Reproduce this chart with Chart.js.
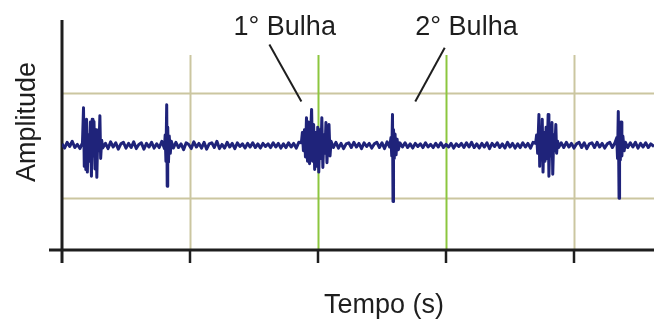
<!DOCTYPE html>
<html>
<head>
<meta charset="utf-8">
<script src="https://cdn.jsdelivr.net/npm/chart.js@4"></script>
<style>
  body { margin: 0; background: #ffffff; }
  #fono { display: block; }
</style>
</head>
<body>
<canvas id="fono" width="654" height="324"></canvas>
<script>
/* ------------------
  data (tempo in s, amplitude arbitrary)
-------------------*/
var tempo = [
  // baseline
  0.00, 0.02, 0.04, 0.06, 0.08, 0.10, 0.12, 0.14,
  // 1a bulha
  0.160, 0.168, 0.174, 0.180, 0.186, 0.192, 0.198, 0.206, 0.214, 0.222, 0.230, 0.236,
  0.242, 0.250, 0.258, 0.266, 0.272, 0.280, 0.288, 0.296, 0.302, 0.310, 0.318,
  // baseline
  0.34, 0.36, 0.38, 0.40, 0.42, 0.44, 0.46, 0.48, 0.50, 0.52, 0.54, 0.56,
  0.58, 0.60, 0.62, 0.64, 0.66, 0.68, 0.70, 0.72, 0.74, 0.76, 0.78, 0.80,
  // 2a bulha
  0.806, 0.812, 0.818, 0.822, 0.826, 0.832, 0.838, 0.846, 0.854,
  // baseline
  0.87, 0.89, 0.91, 0.93, 0.95, 0.97, 0.99, 1.01, 1.03, 1.05,
  1.07, 1.09, 1.11, 1.13, 1.15, 1.17, 1.19, 1.21, 1.23, 1.25,
  1.27, 1.29, 1.31, 1.33, 1.35, 1.37, 1.39, 1.41, 1.43, 1.45,
  1.47, 1.49, 1.51, 1.53, 1.55, 1.57, 1.59, 1.61, 1.63, 1.65,
  1.67, 1.69, 1.71, 1.73, 1.75, 1.77, 1.79, 1.81, 1.83, 1.85,
  // 1a bulha
  1.870, 1.878, 1.886, 1.894, 1.902, 1.910, 1.918, 1.926, 1.934, 1.942,
  1.950, 1.958, 1.966, 1.974, 1.982, 1.990, 1.998, 2.006, 2.014, 2.022,
  2.030, 2.038, 2.046, 2.054, 2.062, 2.070, 2.078, 2.086, 2.094, 2.102,
  // baseline
  2.12, 2.14, 2.16, 2.18, 2.20, 2.22, 2.24, 2.26, 2.28, 2.30, 2.32, 2.34,
  2.36, 2.38, 2.40, 2.42, 2.44, 2.46, 2.48, 2.50, 2.52, 2.54, 2.56,
  // 2a bulha
  2.570, 2.576, 2.582, 2.586, 2.590, 2.596, 2.602, 2.610, 2.618, 2.628, 2.640,
  // baseline
  2.66, 2.68, 2.70, 2.72, 2.74, 2.76, 2.78, 2.80, 2.82, 2.84,
  2.86, 2.88, 2.90, 2.92, 2.94, 2.96, 2.98, 3.00, 3.02, 3.04,
  3.06, 3.08, 3.10, 3.12, 3.14, 3.16, 3.18, 3.20, 3.22, 3.24,
  3.26, 3.28, 3.30, 3.32, 3.34, 3.36, 3.38, 3.40, 3.42, 3.44,
  3.46, 3.48, 3.50, 3.52, 3.54, 3.56, 3.58, 3.60, 3.62, 3.64,
  3.66, 3.68,
  // 1a bulha
  3.700, 3.708, 3.716, 3.726, 3.732, 3.740, 3.746, 3.752, 3.758, 3.766,
  3.774, 3.782, 3.790, 3.798, 3.804, 3.812, 3.820, 3.828, 3.834, 3.842,
  3.850, 3.858, 3.864, 3.872, 3.880,
  // baseline
  3.90, 3.92, 3.94, 3.96, 3.98, 4.00, 4.02, 4.04, 4.06, 4.08, 4.10,
  4.12, 4.14, 4.16, 4.18, 4.20, 4.22, 4.24, 4.26, 4.28, 4.30, 4.32,
  // 2a bulha
  4.334, 4.340, 4.346, 4.352, 4.356, 4.362, 4.368, 4.374, 4.382, 4.392, 4.402,
  // baseline
  4.42, 4.44, 4.46, 4.48, 4.50, 4.52, 4.54, 4.56, 4.58, 4.60, 4.625
];

var amplitude = [
  0.03, -0.05, 0.06, -0.02, 0.08, -0.04, 0.02, -0.06,
  0.05, 0.72, -0.40, 0.35, -0.46, 0.50, -0.51, 0.20, -0.30, 0.45, -0.59, 0.50,
  -0.20, 0.46, -0.45, 0.30, -0.61, 0.25, -0.10, 0.57, -0.25, 0.10, -0.05,
  0.04, -0.06, 0.07, -0.03, 0.05, -0.07, 0.03, 0.06, -0.05, 0.04, -0.04, 0.07,
  -0.06, 0.02, 0.05, -0.07, 0.04, -0.03, 0.06, -0.05, 0.03, -0.04, 0.08, -0.06,
  0.20, -0.30, 0.78, -0.78, 0.35, -0.32, 0.18, -0.15, 0.08,
  -0.05, 0.06, -0.04, 0.03, -0.08, 0.05, 0.02, -0.06, 0.07, -0.03,
  0.04, -0.05, 0.06, -0.07, 0.03, 0.05, -0.04, 0.08, -0.06, 0.02,
  -0.05, 0.06, -0.03, 0.04, -0.06, 0.05, -0.02, 0.03, -0.05, 0.04,
  -0.03, 0.05, -0.04, 0.03, -0.05, 0.04, -0.02, 0.03, -0.04, 0.05,
  -0.03, 0.04, -0.05, 0.03, -0.04, 0.05, -0.03, 0.04, -0.05, 0.06,
  0.05, 0.25, -0.10, 0.30, -0.22, 0.53, -0.30, 0.45, -0.35, 0.20,
  0.69, -0.30, 0.40, -0.46, 0.25, -0.40, 0.35, -0.51, 0.30, -0.25,
  0.53, -0.42, 0.20, -0.15, 0.44, -0.33, 0.15, 0.40, -0.20, 0.08,
  -0.04, 0.06, -0.05, 0.04, -0.06, 0.03, 0.05, -0.04, 0.06, -0.03, 0.04, -0.06,
  0.05, -0.02, 0.04, -0.05, 0.03, 0.06, -0.04, 0.05, -0.06, 0.07, -0.03,
  0.15, -0.20, 0.59, -1.07, 0.30, -0.25, 0.22, -0.18, 0.12, -0.08, 0.05,
  -0.03, 0.05, -0.04, 0.03, -0.05, 0.04, -0.02, 0.03, -0.04, 0.05,
  -0.03, 0.02, -0.04, 0.04, -0.03, 0.05, -0.04, 0.02, -0.03, 0.04,
  -0.05, 0.03, -0.02, 0.04, -0.04, 0.05, -0.03, 0.06, -0.04, 0.03,
  -0.05, 0.04, -0.03, 0.05, -0.06, 0.04, -0.02, 0.05, -0.04, 0.03,
  -0.05, 0.06, -0.03, 0.04, -0.05, 0.03, -0.04, 0.05, -0.03, 0.04,
  -0.05, 0.06,
  0.04, 0.20, -0.15, 0.59, -0.40, 0.30, -0.20, 0.50, -0.51, 0.25,
  -0.30, 0.35, -0.25, 0.59, -0.59, 0.20, -0.20, 0.44, -0.55, 0.20,
  -0.10, 0.40, -0.15, 0.08, -0.04,
  0.05, -0.04, 0.06, -0.03, 0.04, -0.05, 0.03, 0.06, -0.04, 0.05, -0.06,
  0.03, 0.05, -0.04, 0.06, -0.03, 0.04, -0.05, 0.03, 0.06, -0.04, 0.05,
  0.15, -0.25, 0.65, -1.01, 0.30, -0.28, 0.45, -0.20, 0.18, -0.10, 0.06,
  -0.04, 0.05, -0.03, 0.06, -0.05, 0.04, -0.03, 0.05, -0.04, 0.03, -0.02
];

// vertical grid / ticks on the time axis
var tempoTicks = [1, 2, 3, 4];
var gridTempoVerde = [2, 3];      // the two green lines
var amplitudeGrid = [-1, 1];

// annotations
var bulhaLabels = ['1° Bulha', '2° Bulha'];

/* ------------------
  build points
-------------------*/
var pontos = [];
for (var i = 0; i < tempo.length; i++) {
  pontos.push({ x: tempo[i], y: amplitude[i] });
}

// text + arrow positions for the labels (data units)
var bulhaPos = [
  { tx: 1.74, ty: 2.12, x1: 1.62, y1: 1.93, x2: 1.87, y2: 0.84 },
  { tx: 3.16, ty: 2.12, x1: 2.99, y1: 1.87, x2: 2.76, y2: 0.84 }
];

var fundo = {
  id: 'fundo',
  beforeDatasetsDraw: function (chart) {
    var ctx = chart.ctx;
    var xs = chart.scales.x, ys = chart.scales.y;
    var area = chart.chartArea;
    ctx.save();
    // horizontal grid
    ctx.lineWidth = 2;
    ctx.strokeStyle = '#cbc6a0';
    amplitudeGrid.forEach(function (v) {
      var py = Math.round(ys.getPixelForValue(v)) + 0.5;
      ctx.beginPath();
      ctx.moveTo(area.left, py);
      ctx.lineTo(area.right, py);
      ctx.stroke();
    });
    // vertical grid
    var topo = ys.getPixelForValue(1.73);
    tempoTicks.forEach(function (v) {
      var px = Math.round(xs.getPixelForValue(v)) + 0.5;
      ctx.strokeStyle = gridTempoVerde.indexOf(v) >= 0 ? '#8cc63f' : '#cbc6a0';
      ctx.beginPath();
      ctx.moveTo(px, topo);
      ctx.lineTo(px, area.bottom);
      ctx.stroke();
    });
    // axes
    ctx.strokeStyle = '#1e1e1e';
    ctx.lineWidth = 3;
    ctx.beginPath();
    ctx.moveTo(area.left, area.top);
    ctx.lineTo(area.left, area.bottom + 13);
    ctx.moveTo(area.left - 13, area.bottom);
    ctx.lineTo(area.right, area.bottom);
    ctx.stroke();
    ctx.lineWidth = 2.5;
    tempoTicks.forEach(function (v) {
      var px = xs.getPixelForValue(v);
      ctx.beginPath();
      ctx.moveTo(px, area.bottom);
      ctx.lineTo(px, area.bottom + 13);
      ctx.stroke();
    });
    ctx.restore();
  },
  afterDraw: function (chart) {
    var ctx = chart.ctx;
    var xs = chart.scales.x, ys = chart.scales.y;
    ctx.save();
    ctx.fillStyle = '#1e1e1e';
    ctx.strokeStyle = '#1e1e1e';
    ctx.font = '27px "Liberation Sans", Arial, sans-serif';
    ctx.textAlign = 'center';
    ctx.textBaseline = 'alphabetic';
    bulhaLabels.forEach(function (txt, k) {
      var p = bulhaPos[k];
      ctx.fillText(txt, xs.getPixelForValue(p.tx), ys.getPixelForValue(p.ty));
      ctx.lineWidth = 2;
      ctx.beginPath();
      ctx.moveTo(xs.getPixelForValue(p.x1), ys.getPixelForValue(p.y1));
      ctx.lineTo(xs.getPixelForValue(p.x2), ys.getPixelForValue(p.y2));
      ctx.stroke();
    });
    // axis titles
    ctx.fillText('Tempo (s)', 384, 313);
    ctx.translate(35, 122);
    ctx.rotate(-Math.PI / 2);
    ctx.fillText('Amplitude', 0, 0);
    ctx.restore();
  }
};

new Chart(document.getElementById('fono'), {
  type: 'scatter',
  data: {
    datasets: [
      {
        label: 'Fonocardiograma',
        data: pontos,
        showLine: true,
        borderColor: '#1f237a',
        borderWidth: 3,
        borderJoinStyle: 'round',
        pointRadius: 0,
        tension: 0
      }
    ]
  },
  options: {
    responsive: false,
    animation: false,
    layout: { padding: { left: 62, right: 0, top: 20, bottom: 74 } },
    plugins: {
      legend: { display: false },
      tooltip: { enabled: false }
    },
    scales: {
      x: { type: 'linear', min: 0, max: 4.625, display: false },
      y: { type: 'linear', min: -2, max: 2.4, display: false }
    }
  },
  plugins: [fundo]
});
</script>
</body>
</html>
